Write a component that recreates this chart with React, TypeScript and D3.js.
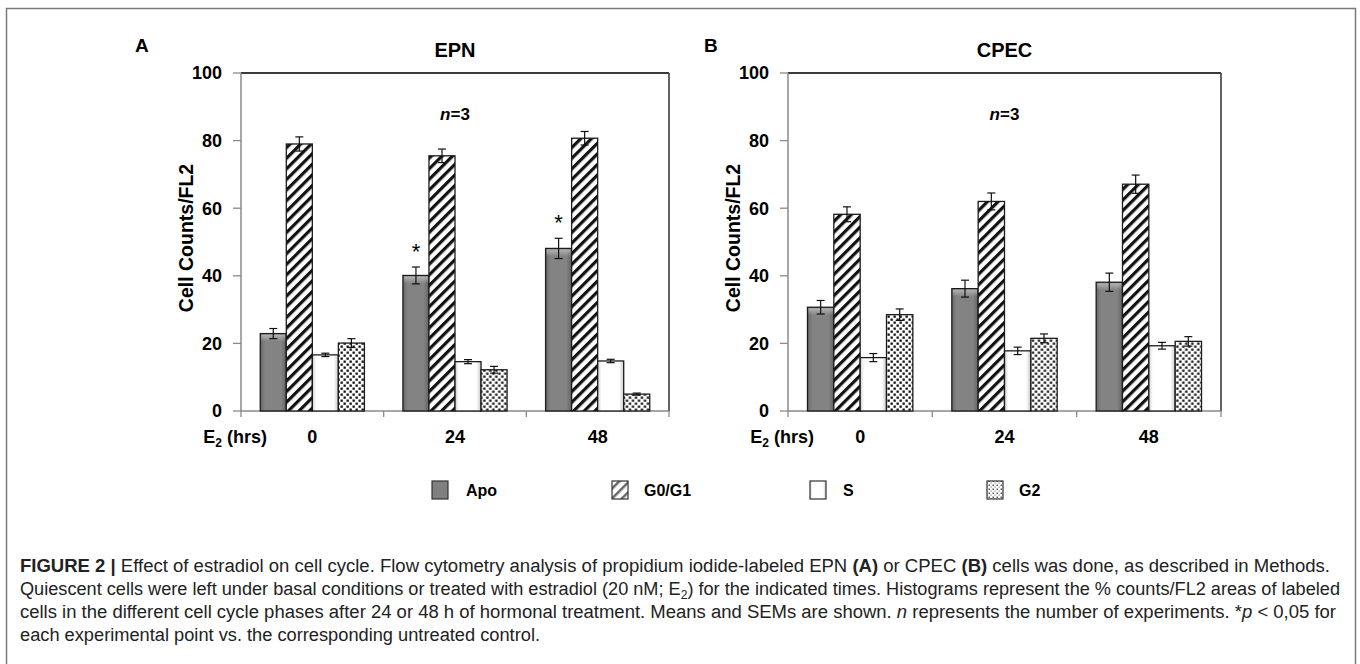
import * as d3 from "d3";

const groups = ["0", "24", "48"];
const phases = ["Apo", "G0/G1", "S", "G2"];
const yTicks = [0, 20, 40, 60, 80, 100];

// EPN (A) – means per phase, one value per time point
const epnApo = [22.9, 40.1, 48.1];
const epnG0G1 = [79.0, 75.5, 80.7];
const epnS = [16.6, 14.6, 14.8];
const epnG2 = [20.1, 12.2, 5.0];
const epnApoErr = [1.5, 2.5, 3.0];
const epnG0G1Err = [2.1, 2.0, 2.0];
const epnSErr = [0.5, 0.6, 0.5];
const epnG2Err = [1.3, 1.0, 0.3];
const epnStars = [false, true, true];

// CPEC (B)
const cpecApo = [30.7, 36.2, 38.1];
const cpecG0G1 = [58.2, 62.0, 67.1];
const cpecS = [15.8, 17.8, 19.3];
const cpecG2 = [28.5, 21.5, 20.6];
const cpecApoErr = [2.0, 2.5, 2.7];
const cpecG0G1Err = [2.2, 2.5, 2.7];
const cpecSErr = [1.2, 1.1, 1.0];
const cpecG2Err = [1.7, 1.3, 1.4];
const cpecStars = [false, false, false];

const FONT = "'Liberation Sans', Arial, Helvetica, sans-serif";
const fills: Record<string, string> = {
  Apo: "url(#apoFill)",
  "G0/G1": "url(#stripes)",
  S: "url(#sFill)",
  G2: "url(#dots)",
};

type PanelProps = {
  left: number;
  right: number;
  top: number;
  bottom: number;
  title: string;
  letter: string;
  letterX: number;
  means: number[][];
  errs: number[][];
  stars: boolean[];
};

function Panel({ left, right, top, bottom, title, letter, letterX, means, errs, stars }: PanelProps) {
  const y = d3.scaleLinear().domain([0, 100]).range([bottom, top]);
  const x0 = d3.scaleBand<string>().domain(groups).range([left, right]).padding(0);
  const bw = x0.bandwidth();
  const x1 = d3.scaleBand<string>().domain(phases).range([bw * 0.135, bw * 0.865]).padding(0);
  const cx = (left + right) / 2;
  const bounds = [...groups.map((g) => x0(g) as number), right];

  return (
    <g fontFamily={FONT}>
      <text x={letterX} y={52} fontSize={19} fontWeight="bold">{letter}</text>
      <text x={cx} y={57} fontSize={20} fontWeight="bold" textAnchor="middle">{title}</text>
      <text x={cx} y={120} fontSize={17} fontWeight="bold" textAnchor="middle">
        <tspan fontStyle="italic">n</tspan>=3
      </text>

      {/* plot frame */}
      <line x1={left} x2={right} y1={top} y2={top} stroke="#3a3a3a" strokeWidth={2} />
      <line x1={right} x2={right} y1={top} y2={bottom} stroke="#3a3a3a" strokeWidth={1.6} />
      <line x1={left} x2={left} y1={top} y2={bottom} stroke="#8a8a8a" strokeWidth={1.5} />
      <line x1={left} x2={right} y1={bottom} y2={bottom} stroke="#8a8a8a" strokeWidth={1.5} />

      {yTicks.map((t) => (
        <g key={t}>
          <line x1={left - 8} x2={left} y1={y(t)} y2={y(t)} stroke="#8a8a8a" strokeWidth={1.3} />
          <text x={left - 19} y={y(t)} dy="0.36em" fontSize={18} fontWeight="bold" textAnchor="end">
            {t}
          </text>
        </g>
      ))}
      {bounds.map((b, i) => (
        <line key={i} x1={b} x2={b} y1={bottom} y2={bottom + 6} stroke="#8a8a8a" strokeWidth={1.3} />
      ))}

      <text
        transform={`translate(${left - 55},${(top + bottom) / 2 - 4}) rotate(-90)`}
        fontSize={19.5}
        fontWeight="bold"
        textAnchor="middle"
        dy="0.35em"
      >
        Cell Counts/FL2
      </text>

      <text x={left + 26} y={bottom + 32} fontSize={18} fontWeight="bold" textAnchor="end">
        E<tspan fontSize={12} dy={4}>2</tspan>
        <tspan dy={-4}> (hrs)</tspan>
      </text>
      {groups.map((g) => (
        <text key={g} x={(x0(g) as number) + bw / 2} y={bottom + 32} fontSize={18} fontWeight="bold" textAnchor="middle">
          {g}
        </text>
      ))}

      {groups.map((g, gi) => (
        <g key={g} transform={`translate(${x0(g)},0)`}>
          {phases.map((p, pi) => {
            const v = means[pi][gi];
            const e = errs[pi][gi];
            const bx = x1(p) as number;
            const w = x1.bandwidth();
            const mid = bx + w / 2;
            return (
              <g key={p}>
                <rect x={bx} y={y(v)} width={w} height={y(0) - y(v)} fill={fills[p]} stroke="#1c1c1c" strokeWidth={1.3} />
                {p === "Apo" && (
                  <rect x={bx + 1} y={y(v) + 1} width={w - 2} height={Math.min(7, y(0) - y(v) - 2)} fill="url(#topBevel)" />
                )}
                <g stroke="#111" strokeWidth={1.2}>
                  <line x1={mid} x2={mid} y1={y(v + e)} y2={y(v - e)} />
                  <line x1={mid - 4} x2={mid + 4} y1={y(v + e)} y2={y(v + e)} />
                  <line x1={mid - 4} x2={mid + 4} y1={y(v - e)} y2={y(v - e)} />
                </g>
                {p === "Apo" && stars[gi] && (
                  <text x={mid} y={y(v + e) - 21 + 12.5} fontSize={22} textAnchor="middle">*</text>
                )}
              </g>
            );
          })}
        </g>
      ))}
    </g>
  );
}

const legendX = [432, 612, 810, 987];
const legendTextX = [466, 644, 843, 1019];

// target widths of the justified caption lines
const captionWidths = [1310, 1320, 1316];

export default function App() {
  return (
    <svg
      width={1360}
      height={664}
      style={{ position: "absolute", left: 0, top: 0, background: "#fff" }}
    >
      <defs>
        <linearGradient id="apoFill" x1="0" x2="1" y1="0" y2="0">
          <stop offset="0%" stopColor="#676767" />
          <stop offset="18%" stopColor="#838383" />
          <stop offset="80%" stopColor="#838383" />
          <stop offset="100%" stopColor="#626262" />
        </linearGradient>
        <linearGradient id="topBevel" x1="0" x2="0" y1="0" y2="1">
          <stop offset="0%" stopColor="#b8b8b8" stopOpacity={0.9} />
          <stop offset="100%" stopColor="#b8b8b8" stopOpacity={0} />
        </linearGradient>
        <linearGradient id="sFill" x1="0" x2="1" y1="0" y2="0">
          <stop offset="0%" stopColor="#cfcfcf" />
          <stop offset="15%" stopColor="#ffffff" />
          <stop offset="82%" stopColor="#ffffff" />
          <stop offset="100%" stopColor="#c9c9c9" />
        </linearGradient>
        <pattern id="stripes" patternUnits="userSpaceOnUse" width={7.5} height={7.5} patternTransform="rotate(45)">
          <rect width={7.5} height={7.5} fill="#fff" />
          <rect width={3.2} height={7.5} fill="#111" />
        </pattern>
        <pattern id="dots" patternUnits="userSpaceOnUse" width={6} height={6}>
          <rect width={6} height={6} fill="#fff" />
          <rect x={0.5} y={0.5} width={2.3} height={2.3} fill="#111" />
          <rect x={3.5} y={3.5} width={2.3} height={2.3} fill="#111" />
        </pattern>
        <pattern id="legendStripes" patternUnits="userSpaceOnUse" width={7} height={7} patternTransform="rotate(45)">
          <rect width={7} height={7} fill="#fff" />
          <rect width={2.5} height={7} fill="#666" />
        </pattern>
        <pattern id="legendDots" patternUnits="userSpaceOnUse" width={4} height={4}>
          <rect width={4} height={4} fill="#fff" />
          <rect x={0.5} y={0.5} width={1.5} height={1.5} fill="#555" />
          <rect x={2.5} y={2.5} width={1.2} height={1.2} fill="#888" />
        </pattern>
      </defs>

      <rect x={6.5} y={8.5} width={1349} height={700} fill="none" stroke="#7a7a7a" strokeWidth={1.5} />

      <Panel
        left={241}
        right={669}
        top={73}
        bottom={411}
        title="EPN"
        letter="A"
        letterX={135}
        means={[epnApo, epnG0G1, epnS, epnG2]}
        errs={[epnApoErr, epnG0G1Err, epnSErr, epnG2Err]}
        stars={epnStars}
      />
      <Panel
        left={788}
        right={1221}
        top={73}
        bottom={411}
        title="CPEC"
        letter="B"
        letterX={704}
        means={[cpecApo, cpecG0G1, cpecS, cpecG2]}
        errs={[cpecApoErr, cpecG0G1Err, cpecSErr, cpecG2Err]}
        stars={cpecStars}
      />

      <g fontFamily={FONT}>
        {phases.map((p, i) => (
          <g key={p}>
            <rect
              x={legendX[i]}
              y={481}
              width={16}
              height={18}
              fill={p === "Apo" ? "#7f7f7f" : p === "G0/G1" ? "url(#legendStripes)" : p === "G2" ? "url(#legendDots)" : "url(#sFill)"}
              stroke="#333"
              strokeWidth={1.2}
            />
            <text x={legendTextX[i]} y={496} fontSize={16} fontWeight="bold">{p}</text>
          </g>
        ))}
      </g>

      <g fontFamily={FONT} fontSize={18} fill="#222">
        <text x={20} y={572} textLength={captionWidths[0]} lengthAdjust="spacingAndGlyphs">
          <tspan fontWeight="bold">FIGURE 2 | </tspan>
          Effect of estradiol on cell cycle. Flow cytometry analysis of propidium iodide-labeled EPN{" "}
          <tspan fontWeight="bold">(A)</tspan> or CPEC <tspan fontWeight="bold">(B)</tspan> cells was done, as described in Methods.
        </text>
        <text x={20} y={595} textLength={captionWidths[1]} lengthAdjust="spacingAndGlyphs">
          Quiescent cells were left under basal conditions or treated with estradiol (20 nM; E
          <tspan fontSize={12} dy={4}>2</tspan>
          <tspan dy={-4}>) for the indicated times. Histograms represent the % counts/FL2 areas of labeled</tspan>
        </text>
        <text x={20} y={618} textLength={captionWidths[2]} lengthAdjust="spacingAndGlyphs">
          cells in the different cell cycle phases after 24 or 48 h of hormonal treatment. Means and SEMs are shown.{" "}
          <tspan fontStyle="italic">n</tspan> represents the number of experiments. *<tspan fontStyle="italic">p</tspan> &lt; 0,05 for
        </text>
        <text x={20} y={641} textLength={520} lengthAdjust="spacingAndGlyphs">
          each experimental point vs. the corresponding untreated control.
        </text>
      </g>
    </svg>
  );
}
